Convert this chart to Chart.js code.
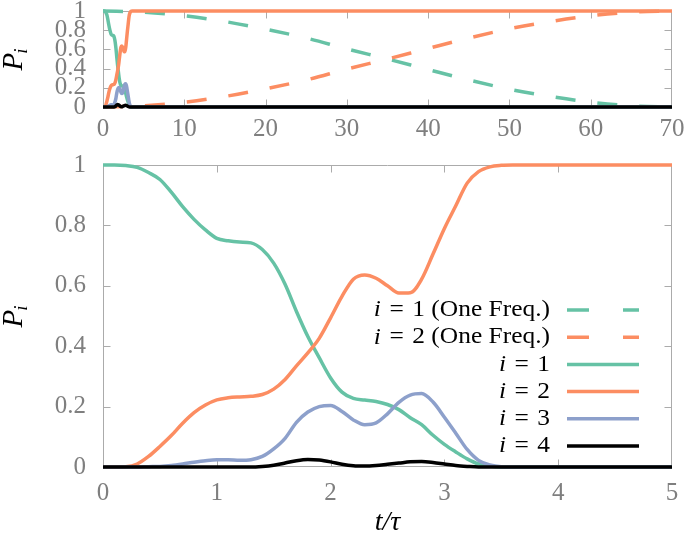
<!DOCTYPE html>
<html><head><meta charset="utf-8">
<script src="https://cdn.jsdelivr.net/npm/chart.js@4/dist/chart.umd.min.js"></script>
<style>
html,body{margin:0;padding:0;background:#fff;}
#wrap{position:relative;width:685px;height:545px;overflow:hidden;}
#topBox{position:absolute;left:0;top:0;width:685px;height:150px;}
#botBox{position:absolute;left:0;top:150px;width:685px;height:395px;}
</style></head><body>
<div id="wrap">
<div id="topBox"><canvas id="topChart" width="685" height="150"></canvas></div>
<div id="botBox"><canvas id="botChart" width="685" height="395"></canvas></div>
</div>
<script>
// ---------- data ----------
const tauTimes = [0,0.1,0.2,0.3,0.4,0.5,0.6,0.7,0.8,0.9,1.0,1.1,1.2,1.3,1.4,1.5,1.6,1.7,1.8,1.9,2.0,2.1,2.2,2.3,2.4,2.5,2.6,2.7,2.8,2.9,3.0,3.1,3.2,3.3,3.4,3.5,3.6,4.0,4.5,5.0,70];
const p1 = [1.000,1.000,0.998,0.992,0.975,0.952,0.910,0.862,0.820,0.785,0.757,0.749,0.745,0.742,0.720,0.675,0.605,0.515,0.432,0.362,0.295,0.248,0.227,0.222,0.217,0.207,0.190,0.163,0.140,0.105,0.075,0.050,0.027,0.010,0.003,0.000,0.000,0,0,0,0];
const p2 = [0,0,0.001,0.010,0.035,0.068,0.104,0.145,0.180,0.205,0.222,0.229,0.232,0.234,0.240,0.258,0.290,0.335,0.378,0.426,0.494,0.565,0.622,0.636,0.625,0.600,0.576,0.577,0.622,0.705,0.790,0.865,0.940,0.978,0.994,0.999,1.000,1,1,1,1];
const p3 = [0,0,0,0,0.001,0.002,0.005,0.010,0.016,0.021,0.024,0.024,0.022,0.024,0.035,0.060,0.095,0.148,0.182,0.200,0.204,0.184,0.156,0.140,0.146,0.176,0.214,0.238,0.243,0.215,0.165,0.112,0.058,0.022,0.007,0.001,0,0,0,0,0];
const p4 = [0,0,0,0,0,0,0,0,0,0,0,0,0,0,0.002,0.006,0.013,0.021,0.025,0.023,0.017,0.009,0.004,0.003,0.005,0.009,0.013,0.017,0.018,0.015,0.010,0.005,0.002,0,0,0,0,0,0,0,0];

const oneFreqTimes = [0,5,10,15,20,25,30,35,40,45,50,55,60,65,70];
const p1OneFreq = [1.000,0.988,0.950,0.890,0.810,0.718,0.605,0.500,0.390,0.282,0.185,0.110,0.050,0.012,0.000];
const p2OneFreq = [0.000,0.012,0.050,0.110,0.190,0.282,0.395,0.500,0.610,0.718,0.815,0.890,0.950,0.988,1.000];

const yTicks = [0,0.2,0.4,0.6,0.8,1];
const yTickLabels = ['0','0.2','0.4','0.6','0.8','1'];
const xTicksTop = [0,10,20,30,40,50,60,70];
const xTickLabelsTop = ['0','10','20','30','40','50','60','70'];
const xTicksBottom = [0,1,2,3,4,5];
const xTickLabelsBottom = ['0','1','2','3','4','5'];

const seriesNames = ['(One Freq.)','(One Freq.)','','','',''];

// ---------- styles ----------
const GREEN = '#66c2a5', ORANGE = '#fc8d62', BLUE = '#8da0cb', BLACK = '#000000';
const FRAME = '#ababab', TICKCOL = '#7f7f7f';
const SERIF = '"Liberation Serif", "Times New Roman", serif';
const TICK_SIZE = 25;
const LW = 3.5;
const PLOT_DASH = [20, 22];
const LEGEND_DASH = [22, 34];

function pts(xs, ys){ return xs.map((x,i)=>({x:x, y:ys[i]})); }
function solid(label, color, xs, ys, order){
  return {label, data: pts(xs,ys), borderColor: color, borderWidth: LW, pointRadius: 0,
    cubicInterpolationMode: 'monotone', fill: false, clip: {left:0, right:0, top:8, bottom:8}, order,
    borderCapStyle:'butt', borderJoinStyle:'round'};
}
function dashed(label, color, xs, ys, order){
  const d = solid(label, color, xs, ys, order);
  d.borderDash = PLOT_DASH;
  return d;
}

// frame + inward ticks
const framePlugin = {
  id: 'frameTicks',
  beforeDatasetsDraw(chart){
    const {ctx, chartArea: a, scales} = chart;
    const xs = scales.x, ys = scales.y;
    const L = Math.round(a.left)+0.5, R = Math.round(a.right)-0.5, T = Math.round(a.top)+0.5, B = Math.round(a.bottom)-0.5;
    ctx.save();
    ctx.strokeStyle = FRAME; ctx.lineWidth = 1;
    ctx.beginPath();
    ctx.rect(L, T, R-L, B-T);
    const tl = 7;
    xs.ticks.forEach(t=>{
      const p = Math.round(xs.getPixelForValue(t.value))+0.5;
      if (p <= L+2 || p >= R-2) return;
      ctx.moveTo(p, B); ctx.lineTo(p, B-tl);
      ctx.moveTo(p, T); ctx.lineTo(p, T+tl);
    });
    ys.ticks.forEach(t=>{
      const p = Math.round(ys.getPixelForValue(t.value))+0.5;
      if (p <= T+2 || p >= B-2) return;
      ctx.moveTo(L, p); ctx.lineTo(L+tl, p);
      ctx.moveTo(R, p); ctx.lineTo(R-tl, p);
    });
    ctx.stroke();
    ctx.restore();
  }
};

// y-axis title P_i
const yTitlePlugin = {
  id: 'yTitle',
  afterDraw(chart){
    const {ctx, chartArea: a} = chart;
    const cy = (a.top + a.bottom)/2;
    ctx.save();
    ctx.translate(a.left - 81, cy);
    ctx.rotate(-Math.PI/2);
    ctx.fillStyle = '#000';
    ctx.textBaseline = 'alphabetic';
    ctx.textAlign = 'left';
    ctx.font = 'italic 29px ' + SERIF;
    const wP = ctx.measureText('P').width;
    ctx.font = 'italic 19px ' + SERIF;
    const wi = ctx.measureText('i').width;
    const x0 = -(wP + wi)/2;
    ctx.font = 'italic 29px ' + SERIF;
    ctx.fillText('P', x0, 0);
    ctx.font = 'italic 19px ' + SERIF;
    ctx.fillText('i', x0 + wP - 1, 5);
    ctx.restore();
  }
};

function baseScales(xmin, xmax, xTicks, xLabels, xHeight, xPad){
  return {
    x: { type:'linear', min:xmin, max:xmax,
      afterBuildTicks: s => { s.ticks = xTicks.map(v=>({value:v})); },
      afterFit: s => { s.height = xHeight; s.paddingLeft = 0; s.paddingRight = 0; },
      grid: {display:false, drawTicks:false}, border:{display:false},
      ticks: { autoSkip:false, maxRotation:0, padding:xPad, color:TICKCOL,
        font:{family:SERIF, size:TICK_SIZE}, callback:(v,i)=> xLabels[i] } },
    y: { type:'linear', min:0, max:1,
      afterBuildTicks: s => { s.ticks = yTicks.map(v=>({value:v})); },
      afterFit: s => { s.width = 103; s.paddingTop = 0; s.paddingBottom = 0; },
      grid: {display:false, drawTicks:false}, border:{display:false},
      ticks: { autoSkip:false, padding:17, color:TICKCOL,
        font:{family:SERIF, size:TICK_SIZE}, callback:(v,i)=> yTickLabels[i] } }
  };
}

// ---------- top panel ----------
const topDatasets = [
  dashed('i = 1 (One Freq.)', GREEN, oneFreqTimes, p1OneFreq, 6),
  dashed('i = 2 (One Freq.)', ORANGE, oneFreqTimes, p2OneFreq, 5),
  solid('i = 1', GREEN, tauTimes, p1, 4),
  solid('i = 2', ORANGE, tauTimes, p2, 3),
  solid('i = 3', BLUE, tauTimes, p3, 2),
  solid('i = 4', BLACK, tauTimes, p4, 1)
];
new Chart(document.getElementById('topChart'), {
  type: 'line',
  data: { datasets: topDatasets },
  options: {
    responsive:false, animation:false, events:[],
    layout:{padding:{left:0,right:13,top:11,bottom:0}},
    plugins:{legend:{display:false}, tooltip:{enabled:false}},
    scales: baseScales(0, 70, xTicksTop, xTickLabelsTop, 43, 7)
  },
  plugins:[framePlugin, yTitlePlugin]
});

// ---------- bottom panel ----------
const legendEntries = topDatasets.map((d, k) => ({
  num: String(k < 2 ? k+1 : k-1), suffix: seriesNames[k], color: d.borderColor, dash: d.borderDash ? LEGEND_DASH : []
}));
const legendPlugin = {
  id: 'rightLegend',
  afterDraw(chart){
    const {ctx, chartArea: a} = chart;
    const textRight = a.right - 122, lineL = a.right - 105, lineR = a.right - 33;
    const y0 = a.top + 145, dy = 27.2;
    const sx = 1.06;
    legendEntries.forEach((e, k) => {
      const y = y0 + k*dy;
      const rest = '\u2004=\u2004' + e.num + (e.suffix ? ' ' + e.suffix : '');
      ctx.save();
      ctx.textBaseline = 'middle'; ctx.fillStyle = '#000'; ctx.textAlign = 'left';
      ctx.font = '24px ' + SERIF;
      const wRest = ctx.measureText(rest).width;
      ctx.font = 'italic 24px ' + SERIF;
      const wI = ctx.measureText('i').width;
      const total = (wRest + wI) * sx;
      ctx.translate(textRight - total, y);
      ctx.scale(sx, 1);
      ctx.fillText('i', 0, 0);
      ctx.font = '24px ' + SERIF;
      ctx.fillText(rest, wI, 0);
      ctx.restore();
      ctx.save();
      ctx.strokeStyle = e.color; ctx.lineWidth = LW; ctx.setLineDash(e.dash);
      ctx.beginPath(); ctx.moveTo(lineL, y); ctx.lineTo(lineR, y); ctx.stroke();
      ctx.restore();
    });
  }
};
const botScales = baseScales(0, 5, xTicksBottom, xTickLabelsBottom, 78, 11);
botScales.x.title = { display:true, text:'t/τ', color:'#000', font:{family:SERIF, size:28, style:'italic'}, padding:{top:0,bottom:6} };
new Chart(document.getElementById('botChart'), {
  type: 'line',
  data: { datasets: topDatasets.slice(2).map(d => solid(d.label, d.borderColor, tauTimes, d.data.map(p=>p.y), d.order)) },
  options: {
    responsive:false, animation:false, events:[],
    layout:{padding:{left:0,right:13,top:15,bottom:0}},
    plugins:{legend:{display:false}, tooltip:{enabled:false}},
    scales: botScales
  },
  plugins:[framePlugin, yTitlePlugin, legendPlugin]
});
</script>
</body></html>
